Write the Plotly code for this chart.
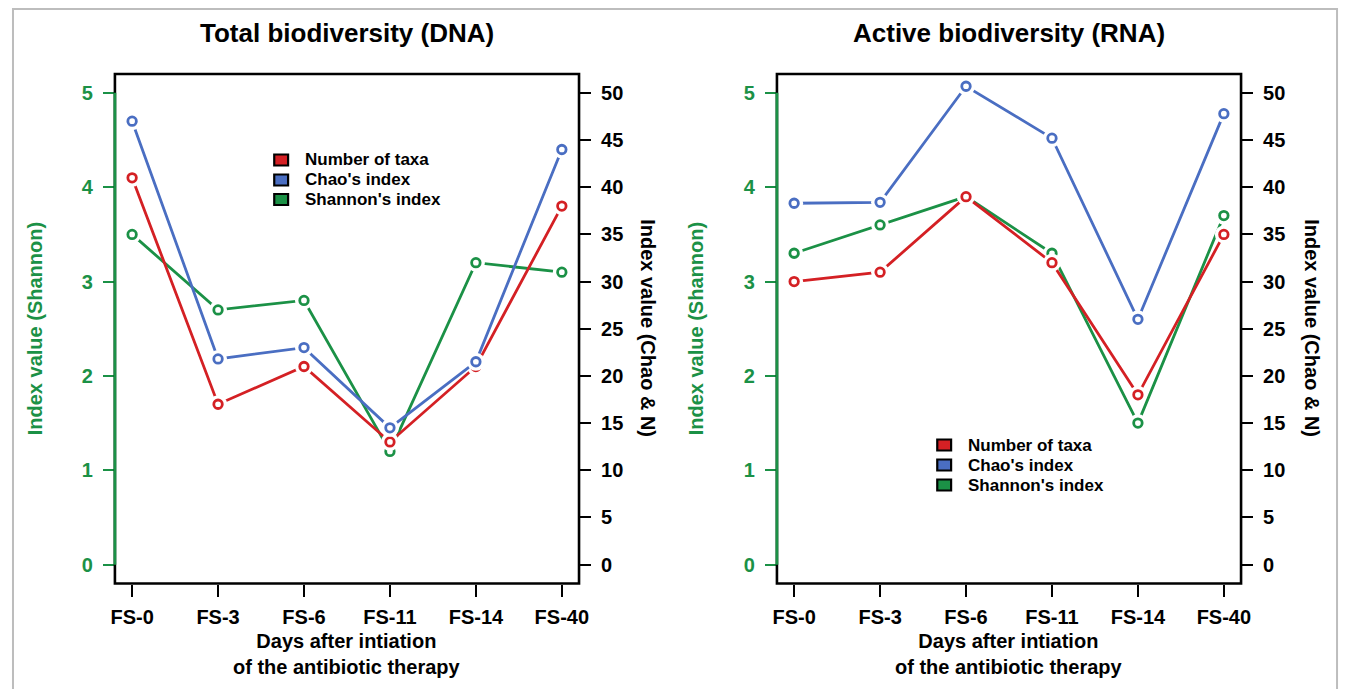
import plotly.graph_objects as go

# ---------------- data ----------------
days = ["FS-0", "FS-3", "FS-6", "FS-11", "FS-14", "FS-40"]

dna_taxa = [41, 17, 21, 13, 21, 38]
dna_chao = [47, 21.8, 23, 14.5, 21.5, 44]
dna_shannon = [3.5, 2.7, 2.8, 1.2, 3.2, 3.1]

rna_taxa = [30, 31, 39, 32, 18, 35]
rna_chao = [38.3, 38.4, 50.7, 45.2, 26, 47.8]
rna_shannon = [3.3, 3.6, 3.9, 3.3, 1.5, 3.7]

shannon_ticks = [0, 1, 2, 3, 4, 5]
chao_ticks = [0, 5, 10, 15, 20, 25, 30, 35, 40, 45, 50]

series_names = ["Number of taxa", "Chao's index", "Shannon's index"]

# ---------------- style ----------------
OFF = 8                      # default page body margin
W, H = 1351 - OFF, 689 - OFF
RED = "#d42024"
BLUE = "#4a6ec2"
GREEN = "#1b9146"
FONT = "Liberation Sans"


def px_x(p):
    return (p - OFF) / W


def px_y(p):
    return 1 - (p - OFF) / H


fig = go.Figure()

xidx = list(range(len(days)))


def add_series(xa, ya, vals, color):
    fig.add_trace(go.Scatter(x=xidx, y=vals, xaxis=xa, yaxis=ya, mode="lines",
                             line=dict(color=color, width=2.8), showlegend=False,
                             hoverinfo="skip"))
    fig.add_trace(go.Scatter(x=xidx, y=vals, xaxis=xa, yaxis=ya, mode="markers",
                             marker=dict(color="white", size=18, line=dict(width=0)),
                             showlegend=False, hoverinfo="skip"))
    fig.add_trace(go.Scatter(x=xidx, y=vals, xaxis=xa, yaxis=ya, mode="markers",
                             marker=dict(color="white", size=8.5, symbol="circle",
                                         line=dict(color=color, width=2.8)),
                             showlegend=False))


# left panel (DNA)
add_series("x", "y2", dna_taxa, RED)
add_series("x", "y2", dna_chao, BLUE)
add_series("x", "y", dna_shannon, GREEN)
# right panel (RNA)
add_series("x2", "y4", rna_taxa, RED)
add_series("x2", "y4", rna_chao, BLUE)
add_series("x2", "y3", rna_shannon, GREEN)

left_dom = [px_x(112), px_x(581)]
right_dom = [px_x(781), px_x(1250)]
ydom = [px_y(583.5), px_y(74)]

tickfont_black = dict(family=FONT, size=20, color="black", weight="bold")
tickfont_green = dict(family=FONT, size=20, color=GREEN, weight="bold")


def xaxis_cfg(dom, anchor):
    return dict(domain=dom, anchor=anchor, range=[-0.2, 5.2], tickmode="array",
                tickvals=xidx, ticktext=days, ticks="outside", ticklen=12, tickwidth=2.4,
                tickcolor="black", showgrid=False, zeroline=False, showline=False,
                tickfont=tickfont_black, ticklabelstandoff=3)


def yleft_cfg(anchor):
    return dict(domain=ydom, anchor=anchor, range=[-0.2, 5.2], tickmode="array",
                tickvals=shannon_ticks, ticks="outside", ticklen=11, tickwidth=2.4,
                tickcolor=GREEN, showgrid=False, zeroline=False, showline=False,
                tickfont=tickfont_green, ticklabelstandoff=6)


def yright_cfg(anchor, over):
    return dict(domain=ydom, anchor=anchor, overlaying=over, side="right",
                range=[-2, 52], tickmode="array", tickvals=chao_ticks,
                ticks="outside", ticklen=11, tickwidth=2.4, tickcolor="black",
                showgrid=False, zeroline=False, showline=False,
                tickfont=tickfont_black, ticklabelstandoff=6)


fig.update_layout(
    width=W, height=H,
    margin=dict(l=0, r=0, t=0, b=0),
    paper_bgcolor="white", plot_bgcolor="white",
    showlegend=False,
    xaxis=xaxis_cfg(left_dom, "y"),
    yaxis=yleft_cfg("x"),
    yaxis2=yright_cfg("x", "y"),
    xaxis2=xaxis_cfg(right_dom, "y3"),
    yaxis3=yleft_cfg("x2"),
    yaxis4=yright_cfg("x2", "y3"),
)

shapes = [
    # outer frame
    dict(type="rect", xref="paper", yref="paper", x0=px_x(9), x1=px_x(1347),
         y0=px_y(720), y1=px_y(9), line=dict(color="#bdbdbd", width=2)),
]
for xa, ya in [("x", "y"), ("x2", "y3")]:
    shapes.append(dict(type="rect", xref=f"{xa} domain", yref=f"{ya} domain",
                       x0=0, x1=1, y0=0, y1=1, line=dict(color="black", width=2.6)))
    shapes.append(dict(type="line", xref=f"{xa} domain", yref=ya,
                       x0=0, x1=0, y0=0, y1=5, line=dict(color=GREEN, width=2.8)))

# legends (filled boxes with black border + labels)
legend_font = dict(family=FONT, size=17, color="black", weight="bold")
ann = []
for (sx, tx, rows) in [(280, 302, [160, 180, 199.5]), (950, 972, [445, 465, 485])]:
    for name, col, ry in zip(series_names, [RED, BLUE, GREEN], rows):
        shapes.append(dict(type="rect", xref="paper", yref="paper",
                           x0=px_x(sx - 7), x1=px_x(sx + 7),
                           y0=px_y(ry + 5.5), y1=px_y(ry - 5.5),
                           fillcolor=col, line=dict(color="black", width=2.2)))
        ann.append(dict(x=px_x(tx), y=px_y(ry), xref="paper", yref="paper", text=name,
                        showarrow=False, font=legend_font, xanchor="left",
                        yanchor="middle"))
fig.update_layout(shapes=shapes)

title_font = dict(family=FONT, size=26, color="black", weight="bold")
axis_font_black = dict(family=FONT, size=20, color="black", weight="bold")
axis_font_green = dict(family=FONT, size=20, color=GREEN, weight="bold")

for cx, title in [((112 + 581) / 2, "Total biodiversity (DNA)"),
                  ((781 + 1250) / 2, "Active biodiversity (RNA)")]:
    ann.append(dict(x=px_x(cx), y=px_y(33), xref="paper", yref="paper", text=title,
                    showarrow=False, font=title_font, xanchor="center", yanchor="middle"))
    ann.append(dict(x=px_x(cx), y=px_y(654), xref="paper", yref="paper",
                    text="Days after intiation<br>of the antibiotic therapy",
                    showarrow=False, font=axis_font_black, xanchor="center",
                    yanchor="middle"))
for lx, rx in [(31, 651), (699, 1322)]:
    ann.append(dict(x=px_x(lx), y=px_y(328.5), xref="paper", yref="paper",
                    text="Index value (Shannon)", textangle=-90, showarrow=False,
                    font=axis_font_green, xanchor="center", yanchor="middle"))
    ann.append(dict(x=px_x(rx), y=px_y(328.5), xref="paper", yref="paper",
                    text="Index value (Chao & N)", textangle=90, showarrow=False,
                    font=axis_font_black, xanchor="center", yanchor="middle"))
fig.update_layout(annotations=ann)

fig.write_html("out.html")
